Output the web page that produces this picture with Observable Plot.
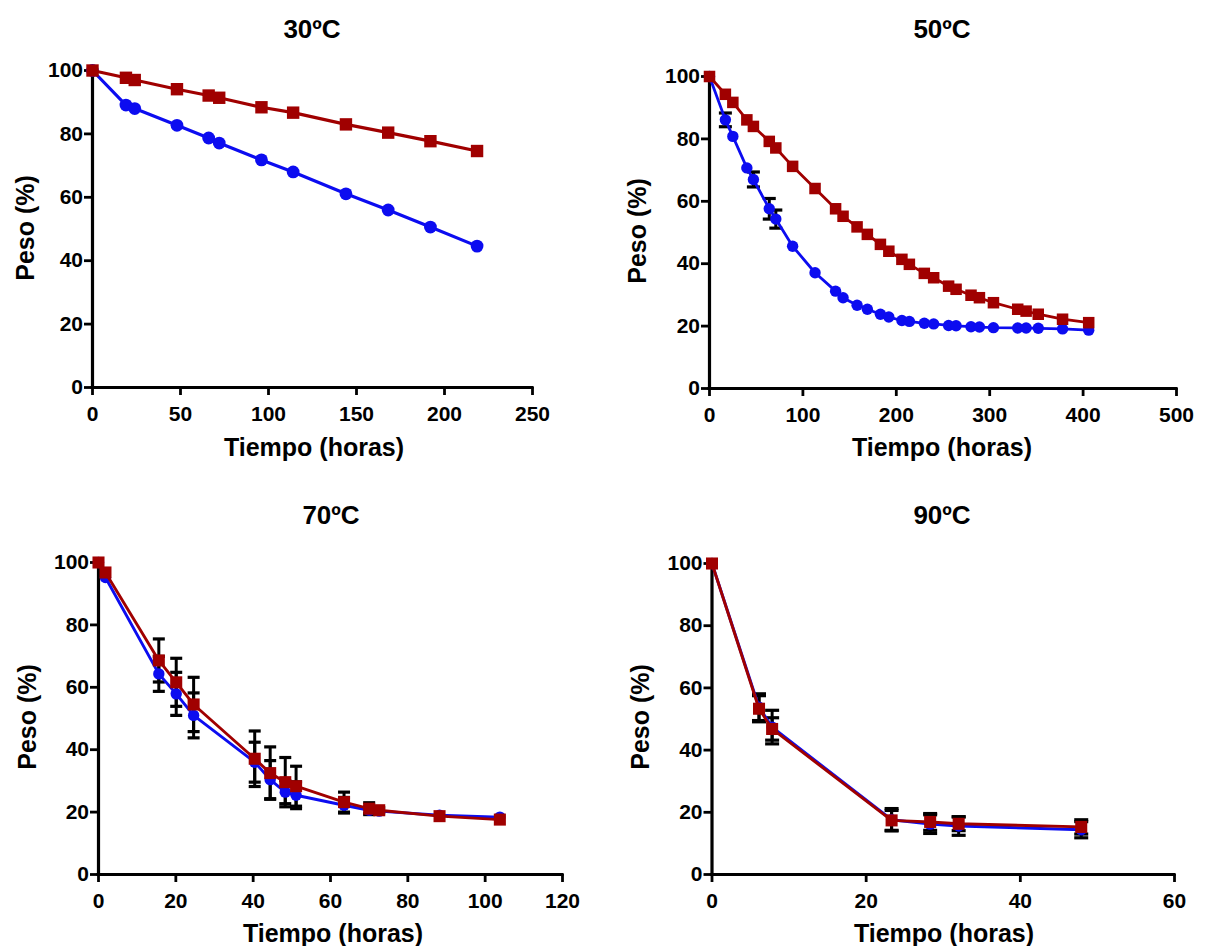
<!DOCTYPE html>
<html>
<head>
<meta charset="utf-8">
<script src="https://cdn.jsdelivr.net/npm/d3@7"></script>
<script src="https://cdn.jsdelivr.net/npm/@observablehq/plot@0.6"></script>
<style>
  body { margin: 0; background: #fff; }
  #root { position: relative; width: 1205px; height: 946px; overflow: hidden;
          font-family: "Liberation Sans", Arial, sans-serif; font-weight: bold; color: #000; }
  .lbl { position: absolute; white-space: nowrap; line-height: 1; }
</style>
</head>
<body>
<div id="root"></div>
<script>
// ---------------- DATA ----------------
const titles = ["30ºC", "50ºC", "70ºC", "90ºC"];
const xLabel = "Tiempo (horas)";
const yLabel = "Peso (%)";
const yTicks = [0, 20, 40, 60, 80, 100];

// 30 ºC
const time30 = [0, 19, 24, 48, 66, 72, 96, 114, 144, 168, 192, 218.5];
const blue30 = [100, 89.1, 88.0, 82.7, 78.7, 77.1, 71.8, 68.0, 61.1, 56.0, 50.6, 44.6];
const red30  = [100, 97.7, 97.0, 94.1, 92.1, 91.4, 88.4, 86.7, 83.0, 80.4, 77.7, 74.6];
const blueErr30 = [0, 0, 0, 0, 0, 0, 0, 0, 0, 0, 0, 0];
const redErr30  = [0, 0, 0, 0, 0, 0, 0, 0, 0, 0, 0, 0];
const xTicks30 = [0, 50, 100, 150, 200, 250];

// 50 ºC
const time50 = [0, 17, 25, 40, 47, 64, 71, 89, 113, 135, 143, 158, 169, 183, 192, 206, 214, 230, 240, 256, 264, 280, 289, 304, 330, 339, 352, 378, 406];
const blue50 = [100, 86.1, 80.8, 70.7, 67.0, 57.6, 54.3, 45.6, 37.1, 31.2, 29.1, 26.7, 25.4, 23.8, 22.9, 21.8, 21.5, 20.9, 20.7, 20.2, 20.1, 19.8, 19.7, 19.5, 19.4, 19.4, 19.3, 19.1, 18.7];
const red50  = [100, 94.3, 91.7, 86.1, 84.0, 79.2, 77.1, 71.2, 64.1, 57.6, 55.2, 51.8, 49.4, 46.2, 44.0, 41.4, 39.8, 36.9, 35.5, 32.8, 31.8, 29.9, 29.1, 27.5, 25.4, 24.8, 23.8, 22.2, 21.1];
const blueErr50 = [0, 2.2, 0, 0, 2.4, 3.3, 2.9, 0, 0, 0, 0, 0, 0, 0, 0, 0, 0, 0, 0, 0, 0, 0, 0, 0, 0, 0, 0, 0, 0];
const redErr50  = [0, 0, 0, 0, 0, 0, 0, 0, 0, 0, 0, 0, 0, 0, 0, 0, 0, 0, 0, 0, 0, 0, 0, 0, 0, 0, 0, 0, 0];
const xTicks50 = [0, 100, 200, 300, 400, 500];

// 70 ºC
const time70 = [0, 1.8, 15.6, 20.1, 24.6, 40.4, 44.4, 48.3, 51.1, 63.5, 70, 72.6, 88.2, 103.8];
const blue70 = [100, 95.2, 64.3, 57.9, 51.0, 36.0, 30.4, 26.4, 25.4, 22.2, 20.6, 20.3, 19.0, 18.4];
const red70  = [100, 96.8, 68.6, 61.6, 54.5, 37.1, 32.5, 29.6, 28.3, 23.2, 21.1, 20.6, 18.7, 17.6];
const blueErr70 = [0, 0, 5.6, 6.9, 7.2, 6.4, 6.1, 3.7, 4.3, 2.5, 1.1, 0, 0, 0];
const redErr70  = [0, 0, 6.9, 7.7, 8.7, 8.9, 8.4, 7.9, 6.4, 3.2, 1.9, 0.8, 0, 0];
const xTicks70 = [0, 20, 40, 60, 80, 100, 120];

// 90 ºC
const time90 = [0, 6.1, 7.8, 23.3, 28.3, 32, 47.9];
const blue90 = [100, 53.8, 47.4, 17.6, 16.2, 15.6, 14.4];
const red90  = [100, 53.3, 46.8, 17.4, 16.9, 16.3, 15.3];
const blueErr90 = [0, 4.3, 5.4, 3.6, 3.0, 3.0, 2.6];
const redErr90  = [0, 4.2, 3.6, 3.2, 2.7, 2.2, 2.3];
const xTicks90 = [0, 20, 40, 60];

// ---------------- STYLE / LAYOUT ----------------
const BLUE = "#0c0cf0";
const RED = "#a00000";
const FONT = "Liberation Sans, Arial, sans-serif";
const TICK_FS = 21;

const panels = [
  { title: titles[0], t: time30, b: blue30, r: red30, eb: blueErr30, er: redErr30, xt: xTicks30,
    left: 0, top: 0, width: 600, height: 470, mL: 92, mR: 68, mT: 70, mB: 83,
    rc: 6.4, rs: 7.0, lw: 3.2, cap: 6,
    titlePos: [312, 29], xlPos: [314, 447], ylPos: [25, 228] },
  { title: titles[1], t: time50, b: blue50, r: red50, eb: blueErr50, er: redErr50, xt: xTicks50,
    left: 600, top: 0, width: 605, height: 470, mL: 109, mR: 29, mT: 76, mB: 82,
    rc: 5.7, rs: 6.5, lw: 2.8, cap: 6.5,
    titlePos: [942, 29], xlPos: [942, 447], ylPos: [637, 231] },
  { title: titles[2], t: time70, b: blue70, r: red70, eb: blueErr70, er: redErr70, xt: xTicks70,
    left: 0, top: 480, width: 600, height: 466, mL: 98, mR: 38, mT: 82, mB: 72,
    rc: 5.7, rs: 6.8, lw: 2.9, cap: 6,
    titlePos: [331, 515], xlPos: [333, 933], ylPos: [27, 717] },
  { title: titles[3], t: time90, b: blue90, r: red90, eb: blueErr90, er: redErr90, xt: xTicks90,
    left: 600, top: 480, width: 605, height: 466, mL: 111.5, mR: 31, mT: 83, mB: 72,
    rc: 5.7, rs: 6.8, lw: 2.9, cap: 7,
    titlePos: [942, 515], xlPos: [944, 933], ylPos: [640, 717] }
];

// horizontal cap symbol for error bars (half-width = r)
const capSymbol = {
  draw(ctx, size) {
    const w = Math.sqrt(size / Math.PI);
    ctx.moveTo(-w, 0);
    ctx.lineTo(w, 0);
  }
};

const root = document.getElementById("root");

function addLabel(text, pos, size, rotate) {
  const d = document.createElement("div");
  d.className = "lbl";
  d.textContent = text;
  d.style.left = pos[0] + "px";
  d.style.top = pos[1] + "px";
  d.style.fontSize = size + "px";
  d.style.transform = "translate(-50%,-50%)" + (rotate ? " rotate(-90deg)" : "");
  root.appendChild(d);
}

for (const p of panels) {
  const blue = p.t.map((x, i) => ({ x, y: p.b[i], e: p.eb[i] }));
  const red = p.t.map((x, i) => ({ x, y: p.r[i], e: p.er[i] }));
  const errs = blue.concat(red).filter(d => d.e > 0);

  const svg = Plot.plot({
    width: p.width,
    height: p.height,
    marginLeft: p.mL, marginRight: p.mR, marginTop: p.mT, marginBottom: p.mB,
    style: { background: "transparent", fontFamily: FONT, fontWeight: "bold", color: "#000", overflow: "visible" },
    x: { domain: [p.xt[0], p.xt[p.xt.length - 1]] },
    y: { domain: [0, 100] },
    marks: [
      Plot.axisX({ ticks: p.xt, tickSize: 8, tickPadding: 11, strokeWidth: 2.8, fontSize: TICK_FS, fontWeight: "bold", fontFamily: FONT, label: null, tickFormat: d => String(d) }),
      Plot.axisY({ ticks: yTicks, tickSize: 8, tickPadding: 1.5, strokeWidth: 2.8, fontSize: TICK_FS, fontWeight: "bold", fontFamily: FONT, label: null, tickFormat: d => String(d) }),
      Plot.ruleY([0], { stroke: "#000", strokeWidth: 3.2, strokeLinecap: "square" }),
      Plot.ruleX([0], { stroke: "#000", strokeWidth: 3.2, strokeLinecap: "square" }),
      // error bars
      Plot.ruleX(errs, { x: "x", y1: d => d.y - d.e, y2: d => d.y + d.e, stroke: "#000", strokeWidth: 3 }),
      Plot.dot(errs, { x: "x", y: d => d.y + d.e, symbol: capSymbol, r: p.cap, stroke: "#000", strokeWidth: 3.2, fill: "none" }),
      Plot.dot(errs, { x: "x", y: d => d.y - d.e, symbol: capSymbol, r: p.cap, stroke: "#000", strokeWidth: 3.2, fill: "none" }),
      // blue series (circles)
      Plot.line(blue, { x: "x", y: "y", stroke: BLUE, strokeWidth: p.lw }),
      Plot.dot(blue, { x: "x", y: "y", symbol: "circle", r: p.rc, fill: BLUE, stroke: "none" }),
      // red series (squares)
      Plot.line(red, { x: "x", y: "y", stroke: RED, strokeWidth: p.lw }),
      Plot.dot(red, { x: "x", y: "y", symbol: "square", r: p.rs, fill: RED, stroke: "none" })
    ]
  });
  svg.style.position = "absolute";
  svg.style.left = p.left + "px";
  svg.style.top = p.top + "px";
  svg.style.maxWidth = "none";
  root.appendChild(svg);

  addLabel(p.title, p.titlePos, 26, false);
  addLabel(xLabel, p.xlPos, 25, false);
  addLabel(yLabel, p.ylPos, 25, true);
}
</script>
</body>
</html>
